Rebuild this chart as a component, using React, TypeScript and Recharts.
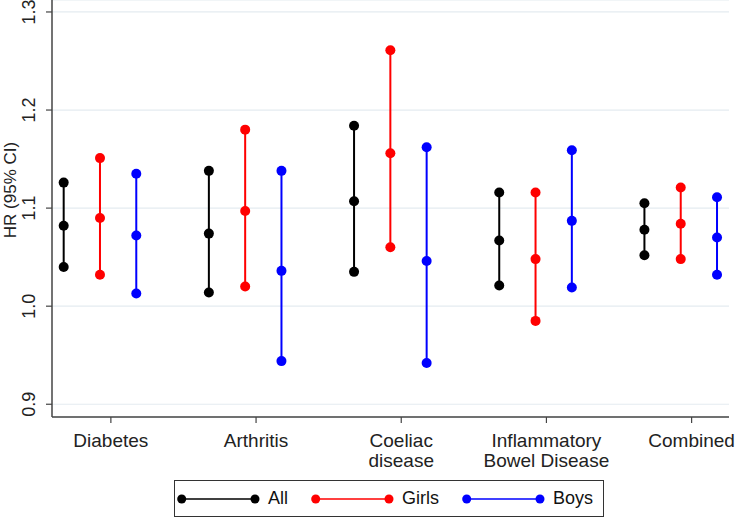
import { CartesianGrid, ComposedChart, Legend, Line, XAxis, YAxis } from 'recharts'

const categories = ['Diabetes', 'Arthritis', 'Coeliac disease', 'Inflammatory Bowel Disease', 'Combined']
const tickLines = [['Diabetes'], ['Arthritis'], ['Coeliac', 'disease'], ['Inflammatory', 'Bowel Disease'], ['Combined']]
const yTicks = [0.9, 1.0, 1.1, 1.2, 1.3]

const allHR = [1.082, 1.074, 1.107, 1.067, 1.078]
const allLow = [1.04, 1.014, 1.035, 1.021, 1.052]
const allHigh = [1.126, 1.138, 1.184, 1.116, 1.105]

const girlsHR = [1.09, 1.097, 1.156, 1.048, 1.084]
const girlsLow = [1.032, 1.02, 1.06, 0.985, 1.048]
const girlsHigh = [1.151, 1.18, 1.261, 1.116, 1.121]

const boysHR = [1.072, 1.036, 1.046, 1.087, 1.07]
const boysLow = [1.013, 0.944, 0.942, 1.019, 1.032]
const boysHigh = [1.135, 1.138, 1.162, 1.159, 1.111]

const FONT = '"Liberation Sans", Arial, sans-serif'

// each group takes 4 slots on the x scale: All, Girls, Boys, gap
const toSegments = (low: number[], hr: number[], high: number[], slot: number) =>
  categories.flatMap((_, i) => {
    const x = 4 * i + slot
    return [
      { x, y: low[i] },
      { x, y: hr[i] },
      { x, y: high[i] },
      { x: x + 0.5, y: null },
    ]
  })

const series = [
  { name: 'All', color: '#000000', data: toSegments(allLow, allHR, allHigh, 1) },
  { name: 'Girls', color: '#ff0000', data: toSegments(girlsLow, girlsHR, girlsHigh, 2) },
  { name: 'Boys', color: '#0000ff', data: toSegments(boysLow, boysHR, boysHigh, 3) },
]

const xTicks = categories.map((_, i) => 4 * i + 2.3)

const XTick = (props: any) => {
  const { x, y, payload } = props
  const idx = Math.round((payload.value - 2.3) / 4)
  const lines = tickLines[idx] || []
  return (
    <text x={x} y={y} textAnchor="middle" fontSize={19} fill="#222" fontFamily={FONT}>
      {lines.map((l, k) => (
        <tspan key={k} x={x} y={y + 22 + k * 20}>
          {l}
        </tspan>
      ))}
    </text>
  )
}

const YTick = (props: any) => {
  const { x, y, payload } = props
  const bx = x - 9
  return (
    <text x={bx} y={y} transform={`rotate(-90, ${bx}, ${y})`} textAnchor="middle" fontSize={18} fill="#222" fontFamily={FONT}>
      {payload.value.toFixed(1)}
    </text>
  )
}

const renderLegend = () => (
  <div
    style={{
      display: 'flex',
      alignItems: 'center',
      height: 37,
      boxSizing: 'border-box',
      border: '1.5px solid #333',
      paddingLeft: 1,
      paddingRight: 10,
      background: '#fff',
      fontFamily: FONT,
      fontSize: 18,
      color: '#111',
    }}
  >
    {series.map((s, i) => (
      <div key={s.name} style={{ display: 'flex', alignItems: 'center', marginRight: i < series.length - 1 ? 22 : 0 }}>
        <svg width={84} height={12}>
          <line x1={5.7} x2={79} y1={6} y2={6} stroke={s.color} strokeWidth={1.5} />
          <circle cx={5.7} cy={6} r={4.5} fill={s.color} />
          <circle cx={79} cy={6} r={4.5} fill={s.color} />
        </svg>
        <span style={{ marginLeft: 8 }}>{s.name}</span>
      </div>
    ))}
  </div>
)

export default function App() {
  return (
    <div style={{ position: 'absolute', left: 0, top: 0, width: 735, height: 518, background: '#fff' }}>
      <ComposedChart width={735} height={518} margin={{ top: 0, right: 6, left: 0, bottom: 1 }}>
        <CartesianGrid vertical={false} stroke="#e4ebf0" strokeWidth={1.2} />
        <XAxis
          dataKey="x"
          type="number"
          domain={[0.678, 19.33]}
          ticks={xTicks}
          interval={0}
          allowDataOverflow
          height={63}
          tick={<XTick />}
          tickSize={6}
          axisLine={{ stroke: '#444', strokeWidth: 1.5 }}
          tickLine={{ stroke: '#444', strokeWidth: 1.2 }}
        />
        <YAxis
          type="number"
          domain={[0.887, 1.3122]}
          ticks={yTicks}
          interval={0}
          allowDataOverflow
          width={52}
          tick={<YTick />}
          tickSize={6}
          axisLine={{ stroke: '#444', strokeWidth: 1.5 }}
          tickLine={{ stroke: '#444', strokeWidth: 1.2 }}
          label={{
            content: (p: any) => {
              const vb = p.viewBox
              const lx = vb.x + 16
              const ly = vb.y + 190
              return (
                <text x={lx} y={ly} transform={`rotate(-90, ${lx}, ${ly})`} textAnchor="middle" fontSize={17} fill="#222" fontFamily={FONT}>
                  HR (95% CI)
                </text>
              )
            },
          }}
        />
        {series.map((s) => (
          <Line
            key={s.name}
            name={s.name}
            data={s.data}
            dataKey="y"
            type="linear"
            stroke={s.color}
            strokeWidth={2}
            dot={{ r: 5, fill: s.color, stroke: s.color, strokeWidth: 0 }}
            activeDot={false}
            connectNulls={false}
            isAnimationActive={false}
          />
        ))}
        <Legend verticalAlign="bottom" content={renderLegend} wrapperStyle={{ left: 174, bottom: 1, width: 'auto' }} />
      </ComposedChart>
    </div>
  )
}
